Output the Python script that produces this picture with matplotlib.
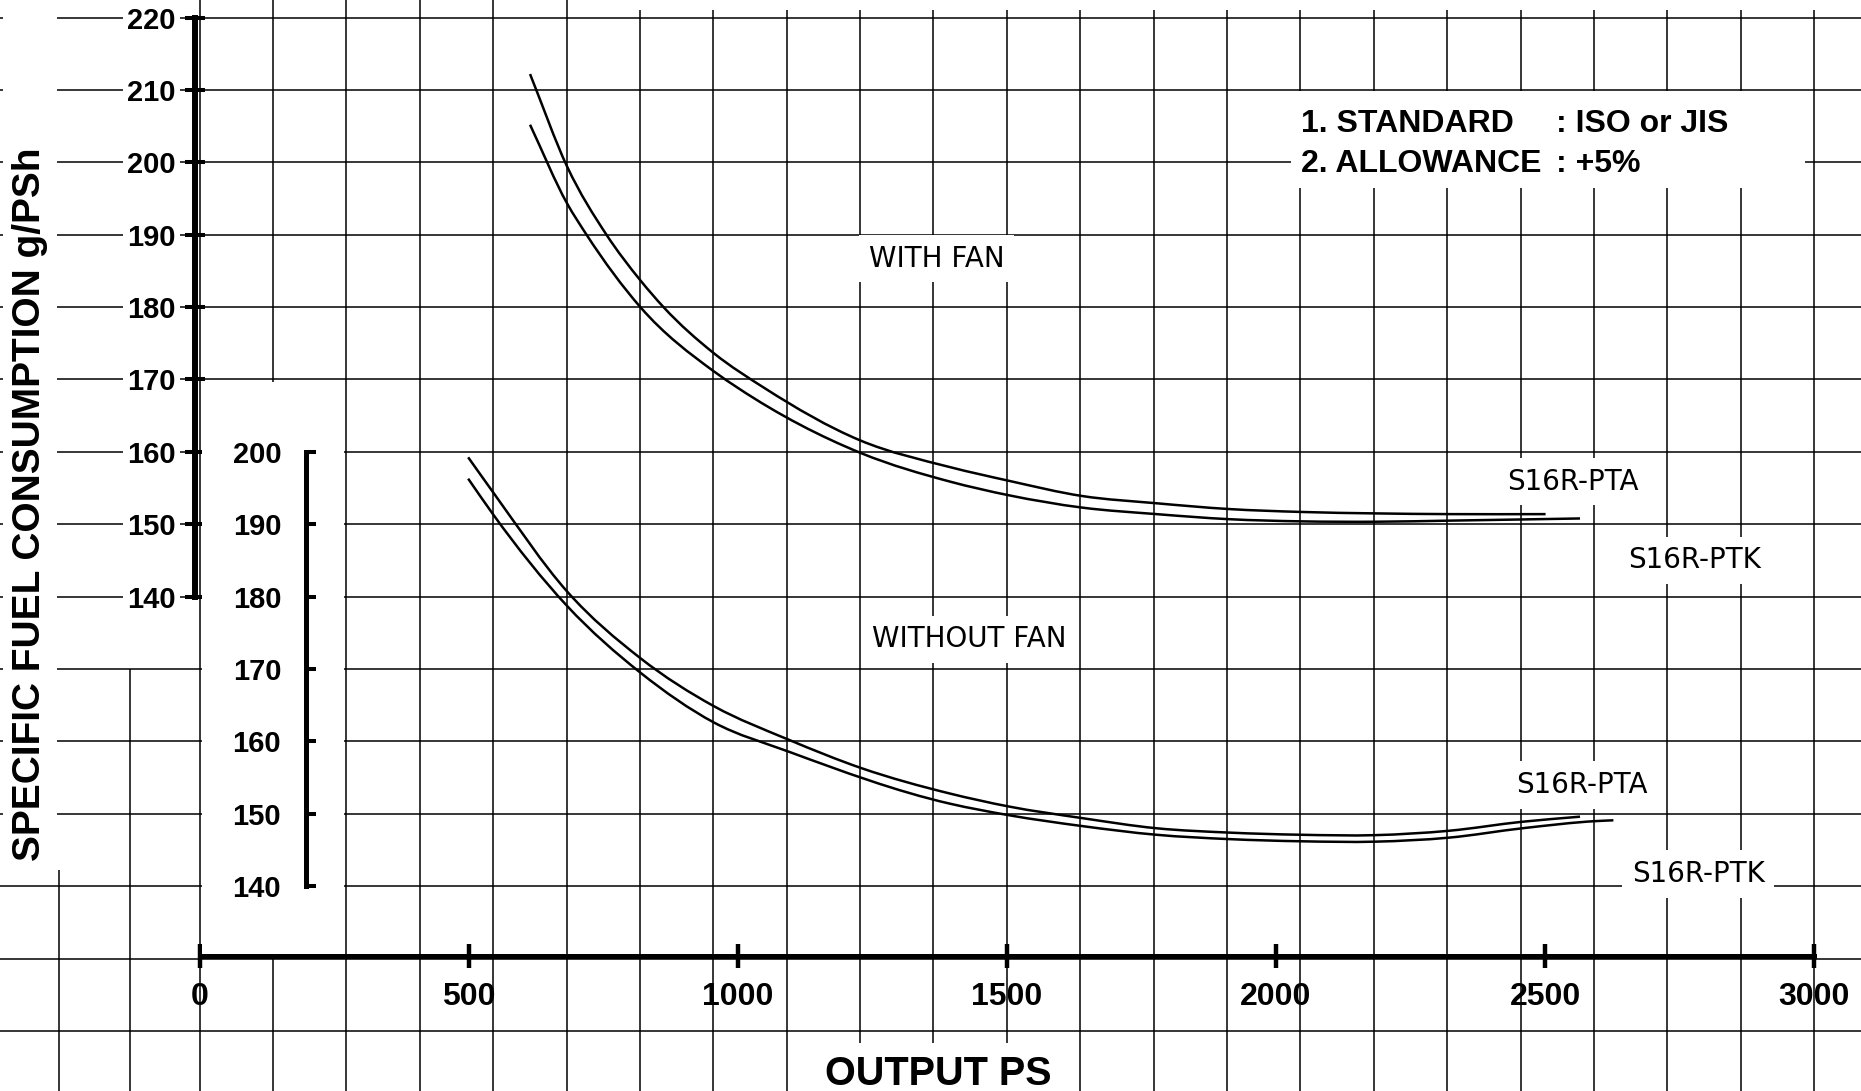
"""Specific fuel consumption curves for S16R-PTA / S16R-PTK, with and without fan."""

import matplotlib

matplotlib.use("Agg")
import matplotlib.pyplot as plt
import numpy as np
from matplotlib.patches import PathPatch, Rectangle
from matplotlib.path import Path

# --- data (output PS vs g/PSh) -------------------------------------------
# with fan, read on the left scale
fan_pta_ps = [614, 683, 756, 819, 862, 956, 1050, 1227, 1394, 1504, 1640, 1778, 1913, 2047, 2185, 2322, 2501]
fan_pta_sfc = [212.2, 199.4, 190.0, 183.7, 180.0, 173.6, 168.8, 161.6, 157.9, 156.0, 153.9, 152.9, 152.1, 151.7, 151.5, 151.4, 151.4]

fan_ptk_ps = [614, 683, 719, 819, 956, 1001, 1230, 1394, 1504, 1640, 1778, 1913, 2047, 2185, 2322, 2565]
fan_ptk_sfc = [205.2, 194.3, 190.0, 180.0, 171.1, 168.8, 159.8, 155.9, 154.0, 152.3, 151.4, 150.7, 150.4, 150.35, 150.5, 150.8]

# without fan, read on the inner (bracket) scale
nofan_pta_ps = [499, 546, 683, 819, 956, 1094, 1230, 1394, 1504, 1640, 1778, 1913, 2047, 2185, 2321, 2458, 2565]
nofan_pta_sfc = [199.25, 194.35, 180.7, 171.5, 164.85, 160.25, 156.3, 152.8, 151.0, 149.4, 148.0, 147.4, 147.1, 147.05, 147.65, 148.9, 149.6]

nofan_ptk_ps = [499, 546, 683, 819, 956, 1094, 1394, 1504, 1640, 1778, 1913, 2047, 2185, 2321, 2458, 2597, 2627]
nofan_ptk_sfc = [196.3, 191.3, 178.7, 169.5, 162.6, 158.6, 151.4, 149.8, 148.3, 147.1, 146.5, 146.2, 146.15, 146.7, 148.0, 149.0, 149.1]

x_ticks = [0, 500, 1000, 1500, 2000, 2500, 3000]
left_ticks = [140, 150, 160, 170, 180, 190, 200, 210, 220]
inner_ticks = [140, 150, 160, 170, 180, 190, 200]

plt.rcParams["font.family"] = ["Liberation Sans", "DejaVu Sans"]

X0, X1 = -370.9, 3087.1
Y0, Y1 = 71.70, 222.43
OFFSET = 40  # inner scale = left scale + 40


def smooth_curve(ax, xs, ys):
    """Draw the read points joined by cubic Hermite (bezier) segments."""
    x = np.asarray(xs, dtype=float)
    y = np.asarray(ys, dtype=float)
    h = np.diff(x)
    d = np.diff(y) / h
    m = np.empty_like(y)
    m[0], m[-1] = d[0], d[-1]
    m[1:-1] = (h[1:] * d[:-1] + h[:-1] * d[1:]) / (h[:-1] + h[1:])
    verts = [(x[0], y[0])]
    codes = [Path.MOVETO]
    for i in range(len(x) - 1):
        verts += [
            (x[i] + h[i] / 3, y[i] + m[i] * h[i] / 3),
            (x[i + 1] - h[i] / 3, y[i + 1] - m[i + 1] * h[i] / 3),
            (x[i + 1], y[i + 1]),
        ]
        codes += [Path.CURVE4] * 3
    ax.add_patch(PathPatch(Path(verts, codes), fill=False, edgecolor="black", lw=1.8, zorder=3))


fig = plt.figure(figsize=(18.61, 10.91), dpi=100)
ax = fig.add_axes([0, 0, 1, 1])
ax.set_xlim(X0, X1)
ax.set_ylim(Y0, Y1)

# graph-paper background
grid_y = np.arange(80, 221, 10)
ax.hlines(grid_y, X0, X1, colors="black", lw=1.1, zorder=1)
grid_x = [-260.5, -130.2] + list(np.arange(23) * 3000 / 22)
grid_top = [102.2, 130.0] + [Y1] * 23
ax.vlines(grid_x, Y0, grid_top, colors="black", lw=1.1, zorder=1)

white = dict(facecolor="white", edgecolor="none", zorder=2)
ax.add_patch(Rectangle((X0 + 5, 102.2), -260.5 - 4 - (X0 + 5), Y1 - 102.2, **white))
ax.add_patch(Rectangle((4, 90.6), 264, 169.6 - 90.6, **white))
ax.add_patch(Rectangle((2028, 196.46), 955, 209.8 - 196.46, **white))
ax.add_patch(Rectangle((751, 221.05), X1 - 751, Y1 - 221.05, **white))
ax.add_patch(Rectangle((1091 + 4, Y0), 545 - 8, 78.3 - Y0, **white))

# curves with fan
smooth_curve(ax, fan_pta_ps, fan_pta_sfc)
smooth_curve(ax, fan_ptk_ps, fan_ptk_sfc)

# axes styling
for side in ["top", "right"]:
    ax.spines[side].set_visible(False)
ax.spines["left"].set_position(("data", -8))
ax.spines["left"].set_bounds(140, 220)
ax.spines["left"].set_linewidth(4.3)
ax.spines["bottom"].set_position(("data", 90.3))
ax.spines["bottom"].set_bounds(0, 3000)
ax.spines["bottom"].set_linewidth(3.6)
for sp in ax.spines.values():
    sp.set_zorder(5)

ax.set_xticks(x_ticks)
ax.set_yticks(left_ticks)
ax.tick_params(axis="y", direction="inout", length=14.4, width=2.9, pad=7, labelsize=21)
ax.tick_params(axis="x", direction="inout", length=17, width=3.2, pad=10, labelsize=23)
for lab in ax.get_yticklabels():
    lab.set_fontweight("bold")
    lab.set_bbox(dict(facecolor="white", edgecolor="none", pad=3))
for lab in ax.get_xticklabels():
    lab.set_fontweight("bold")

# inner bracket scale for the "without fan" curves
ax2 = ax.twinx()
ax2.set_ylim(Y0 + OFFSET, Y1 + OFFSET)
for sp in ax2.spines.values():
    sp.set_visible(False)
ax2.spines["left"].set_visible(True)
ax2.spines["left"].set_position(("data", 198))
ax2.spines["left"].set_bounds(140, 200)
ax2.spines["left"].set_linewidth(3.6)
ax2.yaxis.set_ticks_position("left")
ax2.set_yticks(inner_ticks)
ax2.tick_params(axis="y", direction="in", length=7, width=2.9, pad=18, labelsize=21)
for lab in ax2.get_yticklabels():
    lab.set_fontweight("bold")

smooth_curve(ax2, nofan_pta_ps, nofan_pta_sfc)
smooth_curve(ax2, nofan_ptk_ps, nofan_ptk_sfc)

# labels
label_font = dict(family=["DejaVu Sans"], fontsize=20, va="baseline", ha="left")
box = dict(facecolor="white", edgecolor="none", pad=7)
ax.text(1244, 185.6, "WITH FAN", bbox=box, zorder=4, **label_font)
ax.text(2429, 154.8, "S16R-PTA", bbox=box, zorder=4, **label_font)
ax.text(2655, 143.9, "S16R-PTK", bbox=box, zorder=4, **label_font)
ax2.text(1249, 173.0, "WITHOUT FAN", bbox=box, zorder=4, **label_font)
ax2.text(2446, 152.9, "S16R-PTA", bbox=box, zorder=4, **label_font)
ax2.text(2661, 140.6, "S16R-PTK", bbox=box, zorder=4, **label_font)

note_font = dict(fontsize=23, fontweight="bold", va="baseline", ha="left", zorder=4)
ax.text(2046, 204.24, "1. STANDARD", **note_font)
ax.text(2520, 204.24, ": ISO or JIS", **note_font)
ax.text(2046, 198.7, "2. ALLOWANCE", **note_font)
ax.text(2520, 198.7, ": +5%", **note_font)

ax.text(-315, 152.8, "SPECIFIC FUEL CONSUMPTION g/PSh", rotation=90, ha="center",
        va="center", fontsize=28, fontweight="bold", zorder=4)
ax.text(1372, 72.5, "OUTPUT PS", ha="center", va="baseline", fontsize=28.5,
        fontweight="bold", zorder=4)

fig.savefig("out.png", dpi=100)
